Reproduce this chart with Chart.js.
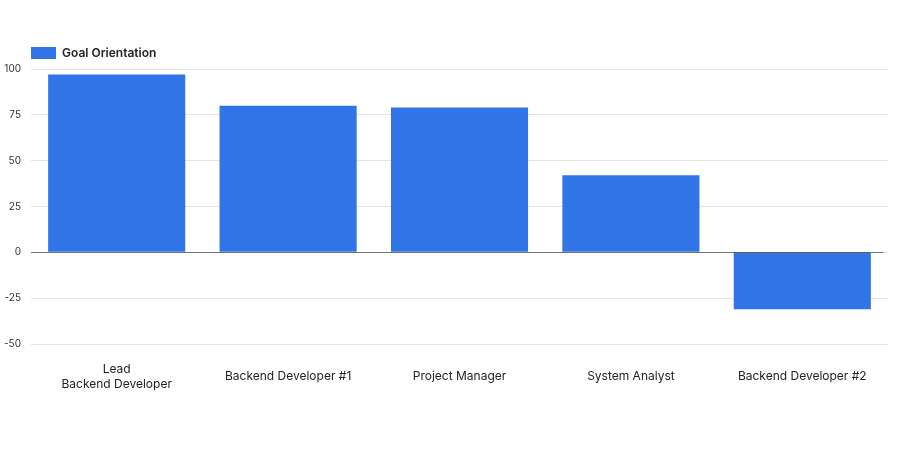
<!DOCTYPE html>
<html>
<head>
<meta charset="utf-8">
<script src="https://cdn.jsdelivr.net/npm/chart.js@4"></script>
<style>
  html, body { margin: 0; padding: 0; background: #fff; }
  #wrap { width: 913px; height: 460px; }
</style>
</head>
<body>
<div id="wrap"><canvas id="grafico"></canvas></div>
<script>
const categories = [
    ['Lead', 'Backend Developer'],
    'Backend Developer #1',
    'Project Manager',
    'System Analyst',
    'Backend Developer #2'
];
const goalOrientation = [97, 80, 79, 42, -31];
const yTicks = [-50, -25, 0, 25, 50, 75, 100];

// linha do zero por cima das barras
const zeroLine = {
    id: 'zeroLine',
    afterDatasetsDraw(chart) {
        const y = chart.scales.y.getPixelForValue(0);
        const { left, right } = chart.chartArea;
        const c = chart.ctx;
        c.save();
        c.strokeStyle = 'rgba(0,0,0,0.5)';
        c.lineWidth = 1;
        c.beginPath();
        c.moveTo(left, Math.round(y) + 0.5);
        c.lineTo(right - 5, Math.round(y) + 0.5);
        c.stroke();
        c.restore();
    }
};

// legenda alinhada com a área do gráfico
const legendShift = {
    id: 'legendShift',
    afterLayout(chart) {
        const lg = chart.legend;
        if (lg) lg.left = chart.chartArea.left - 10;
    }
};

const ctx = document.getElementById('grafico');

new Chart(ctx, {
    type: 'bar',
    data: {
        labels: categories,
        datasets: [{
            label: 'Goal Orientation',
            data: goalOrientation,
            backgroundColor: '#3074e8',
            borderWidth: 0,
            categoryPercentage: 0.8,
            barPercentage: 1.0
        }]
    },
    options: {
        responsive: true,
        maintainAspectRatio: false,
        animation: false,
        layout: {
            padding: { top: 37, left: 4, right: 25, bottom: 44 }
        },
        plugins: {
            legend: {
                position: 'top',
                align: 'start',
                labels: {
                    boxWidth: 25,
                    boxHeight: 12,
                    padding: 10,
                    color: '#222',
                    font: { family: 'Inter', size: 12, weight: '600' }
                }
            },
            tooltip: { enabled: false }
        },
        scales: {
            x: {
                grid: { display: false },
                border: { display: false },
                ticks: {
                    color: '#222',
                    padding: 17,
                    crossAlign: 'center',
                    maxRotation: 0,
                    autoSkip: false,
                    font: { family: 'Inter', size: 12, lineHeight: 1.25 }
                }
            },
            y: {
                min: -50,
                max: 100,
                afterFit(scale) { scale.width = 27; },
                afterBuildTicks(scale) {
                    scale.ticks = yTicks.map(v => ({ value: v }));
                },
                grid: {
                    color: '#e3e3e3',
                    drawTicks: false
                },
                border: { display: false },
                ticks: {
                    color: '#333',
                    padding: 10,
                    font: { family: 'Inter', size: 10 }
                }
            }
        }
    },
    plugins: [zeroLine, legendShift]
});
</script>
</body>
</html>
